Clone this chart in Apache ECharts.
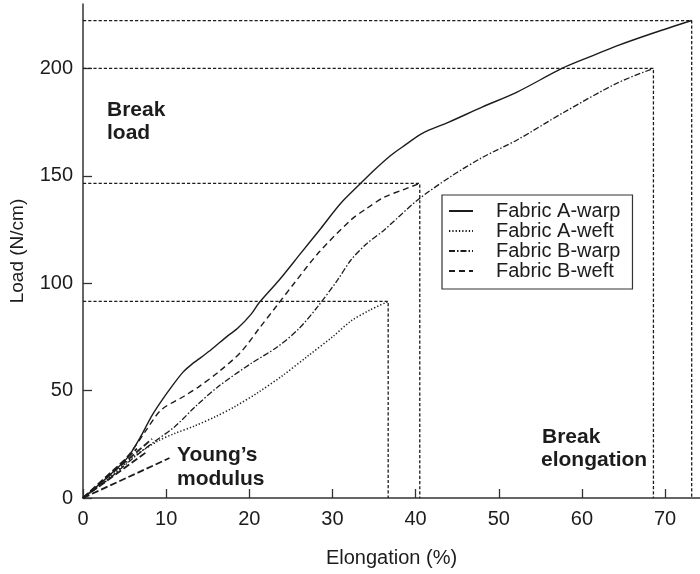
<!DOCTYPE html>
<html>
<head>
<meta charset="utf-8">
<script src="https://cdn.jsdelivr.net/npm/echarts@6/dist/echarts.min.js"></script>
<style>
  html, body { margin: 0; padding: 0; background: #fff; }
  #chart { width: 700px; height: 574px; }
</style>
</head>
<body>
<div id="chart"></div>
<script>
// Load–elongation curves, [elongation %, load N/cm]
const fabricAWarp = [[0,0],[2,6.5],[4,13.5],[5.4,19],[7,29],[8.2,37.8],[9.4,45],[10.6,51.5],[12,58.5],[13,62],[14.2,65.5],[15.4,69],[17.4,75.5],[18.6,79],[20.2,85.5],[21.2,91],[23.6,101.5],[26.2,114],[28.6,125.5],[31,137.2],[33.4,146.5],[35,152.6],[37,159.5],[38.8,164.5],[40.8,169.8],[44,175],[48,182],[52.2,189],[57.6,200],[61,205.5],[64.2,210.5],[68.6,216.5],[73.2,222.3]];
const fabricAWeft = [[0,0],[3,9],[6,19],[9,26.5],[11,30],[13.4,33.5],[16,38],[18.2,42.4],[21,49],[24,57],[27,66],[30,75],[32.2,82.3],[34.5,87.5],[36.7,91.5]];
const fabricBWarp = [[0,0],[3,8.5],[6,18.5],[8.5,26],[11,33.1],[13.5,42.5],[16.2,51.7],[20.2,62.6],[23.4,70.4],[26,79],[28.2,89],[30.6,101.4],[32.2,110.7],[34,118],[36.2,124.7],[40.2,138.6],[44.2,149.6],[48,158.5],[52.2,166.7],[57.8,179.5],[64.2,193.1],[68.6,200]];
const fabricBWeft = [[0,0],[3,10],[5.5,20],[7.5,31],[9.4,41],[12.2,47.5],[14,52],[16.4,59],[19,68],[21.2,79],[23.3,89.5],[25.4,100],[28.4,114.5],[32.2,129.4],[34,134.5],[36.2,140],[38.5,143.5],[40.5,146.5]];

// Break points (elongation, load) marked with guide lines to both axes
const breakPoints = [[73.2,222.3],[68.6,200],[40.5,146.5],[36.7,91.5]];

// Initial-slope (Young's modulus) tangent end points
const tangentEnds = [[8.3,27.5],[6.5,23],[7.5,21],[10.4,18.6]];

// Axis ticks
const xTicks = [0,10,20,30,40,50,60,70];
const yTicks = [0,50,100,150,200];

const FONT = 'Liberation Sans, Arial, Helvetica, sans-serif';
const INK = '#1c1c1c';

const guideSeries = breakPoints.map((p, i) => ({
  type: 'line',
  name: 'break-' + i,
  data: [[0, p[1]], [p[0], p[1]], [p[0], 0]],
  symbol: 'none',
  silent: true,
  color: INK,
  z: 1,
  lineStyle: { color: INK, width: 1.3, type: [3.2, 2] }
}));

const tangentSeries = tangentEnds.map((p, i) => ({
  type: 'line',
  name: 'tangent-' + i,
  data: [[0, 0], p],
  symbol: 'none',
  silent: true,
  color: INK,
  z: 3,
  lineStyle: { color: INK, width: 1.8, type: [7, 3] }
}));

function curve(name, data, dash, width) {
  return {
    type: 'line',
    name: name,
    data: data,
    symbol: 'none',
    smooth: 0.3,
    color: INK,
    z: 4,
    lineStyle: { color: INK, width: width, type: dash }
  };
}

const curveSeries = [
  curve('Fabric A-warp', fabricAWarp, 'solid', 1.4),
  curve('Fabric A-weft', fabricAWeft, [1.3, 2], 1.5),
  curve('Fabric B-warp', fabricBWarp, [6, 2, 1.5, 2], 1.3),
  curve('Fabric B-weft', fabricBWeft, [6, 4], 1.4)
];

const chart = echarts.init(document.getElementById('chart'), null, { renderer: 'canvas' });

function boldText(x, y, s) {
  return {
    type: 'text', x: x, y: y, silent: true, z: 10,
    style: { text: s, fill: INK, font: 'bold 21px ' + FONT, verticalAlign: 'middle', align: 'left' }
  };
}

chart.setOption({
  animation: false,
  backgroundColor: '#fff',
  textStyle: { fontFamily: FONT },
  grid: { left: 82, top: 4, width: 618, bottom: 76, containLabel: false },
  xAxis: {
    type: 'value', min: 0, max: 74.2,
    name: 'Elongation (%)', nameLocation: 'middle', nameGap: 50,
    nameTextStyle: { fontSize: 20, color: INK, fontFamily: FONT },
    axisLine: { show: true, lineStyle: { color: '#333', width: 1.5 } },
    axisTick: { show: true, inside: true, length: 9, customValues: xTicks, lineStyle: { color: '#333', width: 1.3 } },
    axisLabel: { customValues: xTicks, fontSize: 20, color: INK, margin: 11, fontFamily: FONT },
    splitLine: { show: false }
  },
  yAxis: {
    type: 'value', min: 0, max: 230,
    name: 'Load (N/cm)', nameLocation: 'middle', nameGap: 56,
    nameTextStyle: { fontSize: 19, color: INK, fontFamily: FONT },
    axisLine: { show: true, lineStyle: { color: '#333', width: 1.5 } },
    axisTick: { show: true, inside: true, length: 9, customValues: yTicks, lineStyle: { color: '#333', width: 1.3 } },
    axisLabel: { customValues: yTicks, fontSize: 20, color: INK, margin: 10, fontFamily: FONT },
    splitLine: { show: false }
  },
  legend: {
    data: curveSeries.map(s => s.name),
    orient: 'vertical',
    left: 442, top: 195,
    itemWidth: 24, itemHeight: 14, itemGap: 0,
    padding: [6, 12, 8, 6],
    borderColor: '#333', borderWidth: 1.2,
    backgroundColor: '#fff',
    selectedMode: false,
    itemStyle: { opacity: 0, borderWidth: 0 },
    textStyle: { fontSize: 20, lineHeight: 19, color: INK, fontFamily: FONT, padding: [0, 0, 0, 18] }
  },
  graphic: [
    boldText(107, 110, 'Break'),
    boldText(107, 133, 'load'),
    boldText(177, 455, 'Young\u2019s'),
    boldText(177, 479, 'modulus'),
    boldText(542, 437, 'Break'),
    boldText(541, 460, 'elongation')
  ],
  series: guideSeries.concat(tangentSeries, curveSeries)
});
</script>
</body>
</html>
